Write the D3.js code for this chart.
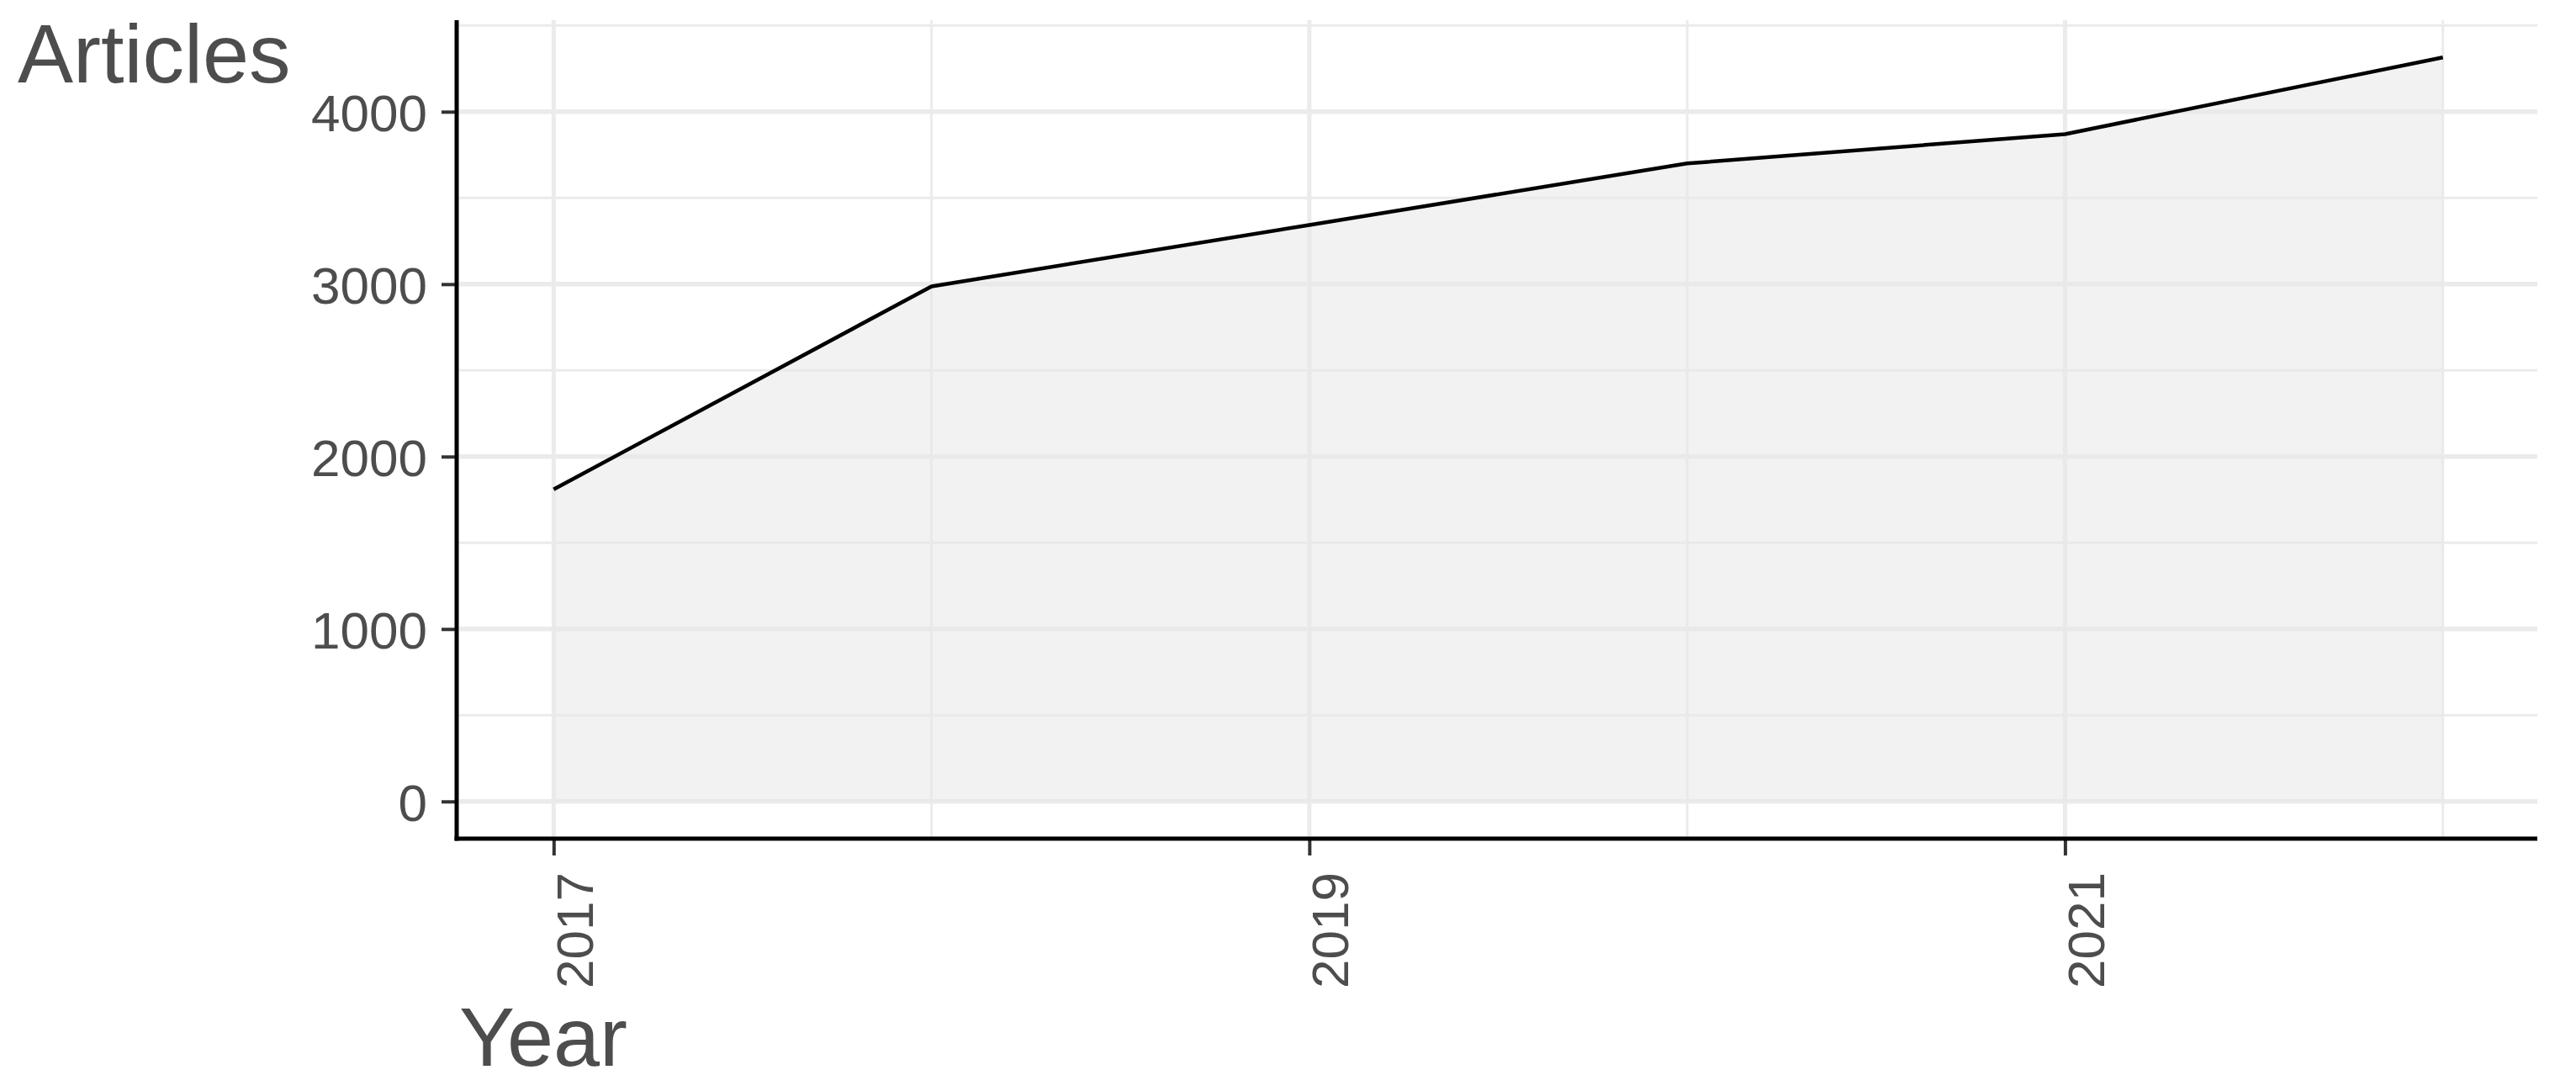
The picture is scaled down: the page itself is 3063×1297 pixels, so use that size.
<!DOCTYPE html>
<html>
<head>
<meta charset="utf-8">
<script src="https://cdnjs.cloudflare.com/ajax/libs/d3/7.8.5/d3.min.js"></script>
<style>
  body { margin: 0; background: #fff; }
  svg text { font-family: "Liberation Sans", Arial, sans-serif; fill: #4d4d4d; }
</style>
</head>
<body>
<svg id="chart"></svg>
<script>
// data
const years = [2017, 2018, 2019, 2020, 2021, 2022];
const articles = [1810, 2987, 3343, 3700, 3870, 4315];

// breaks
const yTicks = [0, 1000, 2000, 3000, 4000];
const yMinor = [500, 1500, 2500, 3500, 4500];
const xTicks = [2017, 2019, 2021];
const xMinor = [2018, 2020, 2022];

const data = years.map((y, i) => ({year: y, value: articles[i]}));

const svg = d3.select('#chart')
  .attr('width', 3063)
  .attr('height', 1297);

const margin = {top: 24, right: 46, bottom: 300, left: 546},
    width = +svg.attr('width') - margin.left - margin.right,
    height = +svg.attr('height') - margin.top - margin.bottom;

const g = svg.append('g')
  .attr('transform', 'translate(' + margin.left + ',' + margin.top + ')');

// ggplot style 5% expansion
const yMax = d3.max(articles);
const yPad = yMax * 0.05;
const xPad = (d3.max(years) - d3.min(years)) * 0.05;

const x = d3.scaleLinear()
  .domain([d3.min(years) - xPad, d3.max(years) + xPad])
  .range([0, width]);

const y = d3.scaleLinear()
  .domain([-yPad, yMax + yPad])
  .range([height, 0]);

// grid
{
  const grid = g.append('g').attr('class', 'grid');

  grid.selectAll('.hminor')
    .data(yMinor)
    .enter()
    .append('line')
    .attr('x1', 0).attr('x2', width)
    .attr('y1', d => y(d)).attr('y2', d => y(d))
    .attr('stroke', '#ebebeb')
    .attr('stroke-width', 3);

  grid.selectAll('.vminor')
    .data(xMinor)
    .enter()
    .append('line')
    .attr('y1', 0).attr('y2', height)
    .attr('x1', d => x(d)).attr('x2', d => x(d))
    .attr('stroke', '#ebebeb')
    .attr('stroke-width', 3);

  grid.selectAll('.hmajor')
    .data(yTicks)
    .enter()
    .append('line')
    .attr('x1', 0).attr('x2', width)
    .attr('y1', d => y(d)).attr('y2', d => y(d))
    .attr('stroke', '#ebebeb')
    .attr('stroke-width', 5.5);

  grid.selectAll('.vmajor')
    .data(xTicks)
    .enter()
    .append('line')
    .attr('y1', 0).attr('y2', height)
    .attr('x1', d => x(d)).attr('x2', d => x(d))
    .attr('stroke', '#ebebeb')
    .attr('stroke-width', 5);
}

// area + line
const area = d3.area()
  .x(d => x(d.year))
  .y0(y(0))
  .y1(d => y(d.value));

const line = d3.line()
  .x(d => x(d.year))
  .y(d => y(d.value));

g.append('path')
  .datum(data)
  .attr('d', area)
  .attr('fill', '#e7e7e7')
  .attr('fill-opacity', 0.55);

g.append('path')
  .datum(data)
  .attr('d', line)
  .attr('fill', 'none')
  .attr('stroke', '#000')
  .attr('stroke-width', 4.5)
  .attr('stroke-linejoin', 'round');

// axes
const yAxis = d3.axisLeft(y)
  .tickValues(yTicks)
  .tickSize(18)
  .tickSizeOuter(0)
  .tickPadding(17)
  .tickFormat(d3.format('d'));

const xAxis = d3.axisBottom(x)
  .tickValues(xTicks)
  .tickSize(20)
  .tickSizeOuter(0)
  .tickFormat(d3.format('d'));

const gy = g.append('g')
  .attr('class', 'y axis')
  .attr('transform', 'translate(-3,0)')
  .call(yAxis);

const gx = g.append('g')
  .attr('class', 'x axis')
  .attr('transform', 'translate(0,' + height + ')')
  .call(xAxis);

gy.select('.domain').remove();
gx.select('.domain').remove();

gy.selectAll('.tick line').attr('stroke', '#333').attr('stroke-width', 4);
gx.selectAll('.tick line').attr('stroke', '#333').attr('stroke-width', 4);

gy.selectAll('.tick text')
  .attr('dy', '0.36em')
  .style('font-size', '62px');

gx.selectAll('.tick text')
  .attr('x', 0)
  .attr('y', 0)
  .attr('dy', null)
  .attr('text-anchor', 'end')
  .attr('transform', 'translate(46,40) rotate(-90)')
  .style('font-size', '62px');

// axis lines
g.append('line')
  .attr('x1', -3).attr('x2', -3)
  .attr('y1', 0).attr('y2', height + 2.5)
  .attr('stroke', '#000')
  .attr('stroke-width', 5);

g.append('line')
  .attr('x1', -5.5).attr('x2', width)
  .attr('y1', height).attr('y2', height)
  .attr('stroke', '#000')
  .attr('stroke-width', 5);

// titles
svg.append('text')
  .attr('x', 21)
  .attr('y', 98)
  .style('font-size', '99px')
  .text('Articles');

svg.append('text')
  .attr('x', margin.left)
  .attr('y', 1267)
  .style('font-size', '99px')
  .text('Year');
</script>
</body>
</html>
